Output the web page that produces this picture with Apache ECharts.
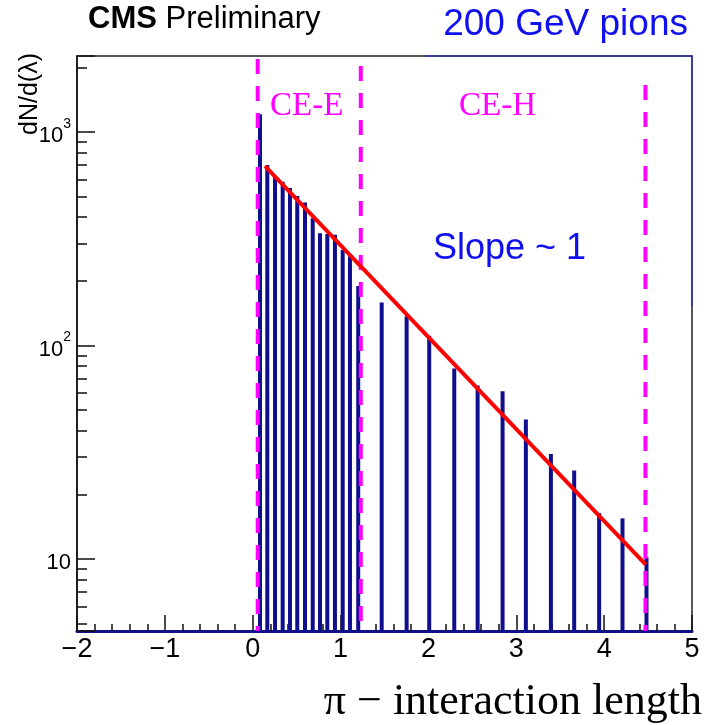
<!DOCTYPE html>
<html>
<head>
<meta charset="utf-8">
<script src="https://cdn.jsdelivr.net/npm/echarts@6/dist/echarts.min.js"></script>
<style>
  html, body { margin: 0; padding: 0; background: #fff; }
  #main { width: 708px; height: 725px; }
</style>
</head>
<body>
<div id="main"></div>
<script>
// CE-E layers: position (lambda) and counts
const ceeLambda = [0.083, 0.166, 0.254, 0.341, 0.424, 0.507, 0.595, 0.683, 0.766, 0.849, 0.936, 1.024, 1.107, 1.201]
const ceeCounts = [1210, 700, 615, 585, 547, 501, 467, 395, 336, 333, 330, 280, 262, 190]
// CE-H layers
const cehLambda = [1.468, 1.752, 2.009, 2.294, 2.560, 2.844, 3.109, 3.394, 3.659, 3.943, 4.209, 4.482]
const cehCounts = [159, 137, 111, 78, 65, 61, 45, 31, 26, 16.4, 15.5, 10.2]
// exponential fit (straight on log axis), end points
const fitLambda = [0.14, 4.474]
const fitCounts = [693, 9.4]
// section boundaries (dashed) and where each dash line starts
const boundLambda = [0.057, 1.23, 4.47]
const boundTop = [2200, 2040, 1660]
// axis ticks
const yMajorTicks = [10, 100, 1000]
const yMinorTicks = [5, 6, 7, 8, 9, 20, 30, 40, 50, 60, 70, 80, 90, 200, 300, 400, 500, 600, 700, 800, 900, 2000]
const yMin = 4.6
const yMax = 2270
const xMin = -2
const xMax = 5

const chart = echarts.init(document.getElementById('main'))

const barData = ceeLambda.map((x, i) => [x, ceeCounts[i]])
  .concat(cehLambda.map((x, i) => [x, cehCounts[i]]))

const boundSeries = boundLambda.map((x, i) => ({
  type: 'line',
  name: 'bound' + i,
  data: [[x, boundTop[i]], [x, yMin]],
  symbol: 'none',
  z: 4,
  lineStyle: { color: '#ff00ff', width: 4, type: [15, 12] }
}))

function yLabel (v) {
  const p = Math.round(Math.log10(v))
  if (Math.abs(Math.log10(v) - p) > 1e-6 || yMajorTicks.indexOf(Math.pow(10, p)) < 0) return ''
  return p === 1 ? '{b|10}' : '{b|10}{s|' + p + '}'
}

const option = {
  animation: false,
  backgroundColor: '#ffffff',
  grid: {
    left: 77,
    right: 16,
    top: 56,
    bottom: 94,
    show: true,
    borderColor: '#222',
    borderWidth: 1.5
  },
  xAxis: {
    type: 'value',
    min: xMin,
    max: xMax,
    interval: 1,
    axisLine: { onZero: false, lineStyle: { color: '#10108f', width: 3 } },
    axisTick: { inside: true, length: 16, lineStyle: { color: '#111', width: 1.5 } },
    minorTick: { show: true, splitNumber: 5, length: 7, lineStyle: { color: '#111', width: 1.5 } },
    splitLine: { show: false },
    axisLabel: {
      margin: 5,
      color: '#000',
      fontSize: 27,
      fontFamily: 'Liberation Sans',
      formatter: v => String(v).replace('-', '\u2212')
    }
  },
  yAxis: [{
    type: 'log',
    logBase: 10,
    min: yMin,
    max: yMax,
    axisLine: { onZero: false, lineStyle: { color: '#111', width: 1.5 } },
    axisTick: { inside: true, length: 18, lineStyle: { color: '#111', width: 1.5 } },
    splitLine: { show: false },
    axisLabel: {
      margin: 6,
      formatter: yLabel,
      rich: {
        b: { fontSize: 22, fontFamily: 'Liberation Sans', color: '#000', lineHeight: 30, verticalAlign: 'bottom' },
        s: { fontSize: 14, fontFamily: 'Liberation Sans', color: '#000', lineHeight: 30, verticalAlign: 'top' }
      }
    }
  }, {
    type: 'value',
    position: 'left',
    min: Math.log10(yMin),
    max: Math.log10(yMax),
    axisLine: { show: false, onZero: false },
    axisLabel: { show: false },
    splitLine: { show: false },
    axisTick: {
      inside: true,
      length: 10,
      customValues: yMinorTicks.map(v => Math.log10(v)),
      lineStyle: { color: '#111', width: 1.5 }
    }
  }],
  graphic: [
    // blue upper-right frame piece
    { type: 'polyline', shape: { points: [[425, 56], [692, 56], [692, 307]] }, style: { stroke: '#3030b0', lineWidth: 1.5, fill: null }, z: 10 },
    {
      type: 'text', left: 88, top: 4, z: 10,
      style: {
        text: '{b|CMS }{n|Preliminary}',
        rich: {
          b: { fontSize: 31, fontWeight: 'bold', fontFamily: 'Liberation Sans', fill: '#000', verticalAlign: 'bottom' },
          n: { fontSize: 31, fontFamily: 'Liberation Sans', fill: '#000', verticalAlign: 'bottom' }
        }
      }
    },
    { type: 'text', right: 20, top: 6, z: 10, style: { text: '200 GeV pions', fontSize: 37, fontFamily: 'Liberation Sans', fill: '#1010ee' } },
    { type: 'text', left: 433, top: 231, z: 10, style: { text: 'Slope ~ 1', fontSize: 36, fontFamily: 'Liberation Sans', fill: '#1010ee' } },
    { type: 'text', left: 270, top: 90, z: 10, style: { text: 'CE-E', fontSize: 33, fontFamily: 'Liberation Serif', fill: '#ff00ff' } },
    { type: 'text', left: 459, top: 90, z: 10, style: { text: 'CE-H', fontSize: 33, fontFamily: 'Liberation Serif', fill: '#ff00ff' } },
    { type: 'text', right: 6, top: 680, z: 10, style: { text: '\u03c0 \u2212 interaction length', fontSize: 44, fontFamily: 'Liberation Serif', fill: '#000' } },
    {
      type: 'text', x: 30, y: 94, rotation: Math.PI / 2, z: 10,
      style: { text: 'dN/d(\u03bb)', fontSize: 25, fontFamily: 'Liberation Sans', fill: '#000', align: 'center', verticalAlign: 'middle' }
    }
  ],
  series: [{
    type: 'bar',
    name: 'layers',
    data: barData,
    barWidth: 4,
    clip: true,
    z: 2,
    itemStyle: { color: '#0e0e8e' }
  }].concat(boundSeries, [{
    type: 'line',
    name: 'fit',
    data: fitLambda.map((x, i) => [x, fitCounts[i]]),
    symbol: 'none',
    z: 5,
    lineStyle: { color: '#ff0000', width: 4 }
  }])
}

chart.setOption(option)
</script>
</body>
</html>
